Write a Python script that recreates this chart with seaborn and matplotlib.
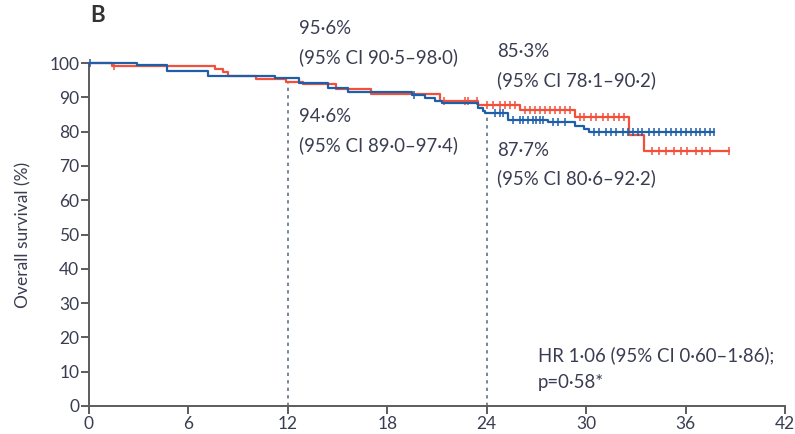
import numpy as np
import pandas as pd
import matplotlib
matplotlib.use("Agg")
import matplotlib.pyplot as plt
import seaborn as sns

# Kaplan-Meier step data (months, overall survival %)
blue_time = [0, 2.9, 4.7, 7.2, 11.2, 12.7, 14.4, 15.6, 19.5, 20.3, 20.9, 21.3,
             23.5, 23.8, 23.9, 25.3, 27.7, 29.3, 29.9, 30.2]
blue_surv = [100, 99.3, 97.7, 96.2, 95.6, 94.2, 92.8, 91.6, 90.8, 89.9, 89.0, 88.2,
             87.0, 85.9, 85.3, 83.5, 82.8, 81.6, 80.7, 80.0]
blue_end = 37.7
blue_censor = [0.05, 19.6, 24.5, 24.8, 25.0, 25.6, 26.0, 26.2, 26.5, 26.8, 27.0,
               27.2, 27.4, 28.0, 28.3, 28.7, 30.5, 30.8, 31.2, 31.5, 31.8, 32.2,
               32.5, 32.8, 33.1, 33.4, 33.8, 34.1, 34.4, 34.8, 35.1, 35.4, 35.7,
               36.0, 36.3, 36.6, 36.9, 37.2, 37.5, 37.7]

red_time = [0, 1.4, 7.6, 8.1, 8.4, 10.1, 11.9, 12.9, 14.9, 17.0, 21.2, 23.5,
            26.0, 29.3, 32.6, 33.5]
red_surv = [100, 99.2, 98.3, 97.4, 96.3, 95.3, 94.6, 93.8, 92.4, 90.9, 89.0, 87.7,
            86.4, 84.4, 79.0, 74.2]
red_end = 38.6
red_censor = [1.5, 21.4, 22.7, 22.9, 23.4, 24.0, 24.4, 24.8, 25.1, 25.4, 25.7,
              26.3, 26.6, 26.9, 27.2, 27.5, 27.8, 28.1, 28.4, 28.7, 29.0, 29.6,
              29.9, 30.3, 30.6, 31.0, 31.3, 31.7, 32.0, 32.3, 34.0, 34.4, 34.8,
              35.3, 35.7, 36.1, 36.6, 37.0, 37.5, 38.6]

x_ticks = [0, 6, 12, 18, 24, 30, 36, 42]
y_ticks = [0, 10, 20, 30, 40, 50, 60, 70, 80, 90, 100]
landmarks = [12, 24]

label_12_blue = "95·6%\n(95% CI 90·5–98·0)"
label_12_red = "94·6%\n(95% CI 89·0–97·4)"
label_24_blue = "85·3%\n(95% CI 78·1–90·2)"
label_24_red = "87·7%\n(95% CI 80·6–92·2)"
hr_text = "HR 1·06 (95% CI 0·60–1·86);\np=0·58*"

BLUE = "#1f5ea8"
RED = "#f2503a"
TEXT = "#3a3d52"
AXIS = "#5c5c5c"

sns.set_theme(style="white")
plt.rcParams["font.family"] = ["Lato", "DejaVu Sans"]


def step_frame(times, surv, end, group):
    t = list(times) + [end]
    s = list(surv) + [surv[-1]]
    return pd.DataFrame({"time": t, "surv": s, "group": group})


def surv_at(times, surv, t):
    idx = np.searchsorted(times, t, side="right") - 1
    return np.asarray(surv)[idx]


df = pd.concat([step_frame(blue_time, blue_surv, blue_end, "blue"),
                step_frame(red_time, red_surv, red_end, "red")],
               ignore_index=True)

W, H = 795, 434
fig = plt.figure(figsize=(W / 100, H / 100), dpi=100)
ax = fig.add_axes([89 / W, 1 - 406 / H, (785 - 89) / W, (406 - 63) / H])

# landmark dotted lines, drawn first so the curves sit on top
for lm in landmarks:
    top = min(surv_at(blue_time, blue_surv, lm), surv_at(red_time, red_surv, lm))
    ax.plot([lm, lm], [0, top], color="#5d7386", lw=1.2,
            linestyle=(0, (2, 2.5)), zorder=1)

sns.lineplot(data=df[df.group == "red"], x="time", y="surv", ax=ax,
             drawstyle="steps-post", color=RED, lw=1.6, legend=False,
             estimator=None, sort=False, zorder=3)
sns.lineplot(data=df[df.group == "blue"], x="time", y="surv", ax=ax,
             drawstyle="steps-post", color=BLUE, lw=1.6, legend=False,
             estimator=None, sort=False, zorder=4)

# censoring ticks
ax.plot(red_censor, surv_at(red_time, red_surv, red_censor), linestyle="none",
        marker="|", color=RED, ms=6, mew=1.1, zorder=3, clip_on=False)
ax.plot(blue_censor, surv_at(blue_time, blue_surv, blue_censor), linestyle="none",
        marker="|", color=BLUE, ms=6, mew=1.1, zorder=4, clip_on=False)

for ln in ax.lines:
    ln.set_clip_on(False)

ax.set_xlim(0, 42)
ax.set_ylim(0, 100)
ax.set_xticks(x_ticks)
ax.set_yticks(y_ticks)
ax.set_xlabel("")
ax.set_ylabel("Overall survival (%)", fontsize=12.5, color=TEXT, labelpad=13)
sns.despine(ax=ax)
for side in ("left", "bottom"):
    ax.spines[side].set_color(AXIS)
    ax.spines[side].set_linewidth(1.4)
ax.tick_params(axis="both", direction="out", length=6, width=1.4, color=AXIS,
               labelsize=12.5, labelcolor=TEXT, pad=1, left=True, bottom=True)

fs = 13.4
ls = 1.72
ax.text(12.7, 112.5, label_12_blue, fontsize=fs, color=TEXT, va="top",
        linespacing=ls, clip_on=False)
ax.text(12.7, 86.8, label_12_red, fontsize=fs, color=TEXT, va="top",
        linespacing=ls)
ax.text(24.6, 105.8, label_24_blue, fontsize=fs, color=TEXT, va="top",
        linespacing=ls, clip_on=False)
ax.text(24.6, 77.0, label_24_red, fontsize=fs, color=TEXT, va="top",
        linespacing=ls)
ax.text(27.1, 17.5, hr_text, fontsize=fs, color=TEXT, va="top", linespacing=ls)

fig.text(90 / W, 1 - 15 / H, "B", fontsize=16, fontweight="bold", color="#333333",
         va="center", ha="left")

fig.savefig("out.png", dpi=100)
